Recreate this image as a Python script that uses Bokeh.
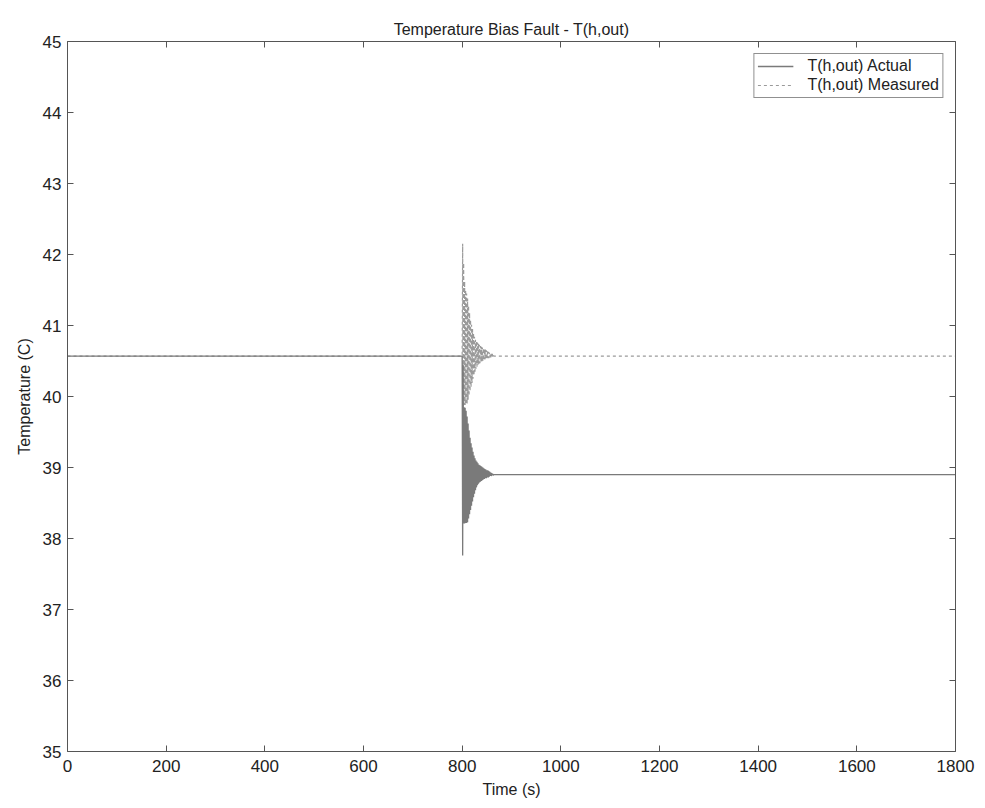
from bokeh.plotting import figure
from bokeh.models import LinearAxis, Range1d, FixedTicker, Legend, LegendItem
from bokeh.embed import file_html
from bokeh.resources import INLINE

title_text = "Temperature Bias Fault - T(h,out)"
x_label = "Time (s)"
y_label = "Temperature (C)"
x_ticks = [0, 200, 400, 600, 800, 1000, 1200, 1400, 1600, 1800]
y_ticks = [35, 36, 37, 38, 39, 40, 41, 42, 43, 44, 45]

# time samples (s)
time_s = [0, 800, 801, 802, 803, 804, 805, 806, 807, 808, 809, 810,
          811, 812, 813, 814, 815, 816, 817, 818, 819, 820,
          821, 822, 823, 824, 825, 826, 827, 828, 829, 830,
          831, 832, 833, 834, 835, 836, 837, 838, 839, 840,
          841, 842, 843, 844, 845, 846, 847, 848, 849, 850,
          851, 852, 853, 854, 855, 856, 857, 858, 859, 860,
          861, 862, 863, 864, 1800]

# T(h,out) actual (C)
t_actual = [40.57, 40.57, 37.76, 40.45, 38.21, 39.85, 38.21, 39.84, 38.22, 39.80, 38.22, 39.72,
            38.23, 39.62, 38.28, 39.52, 38.34, 39.42, 38.40, 39.34, 38.46, 39.28,
            38.52, 39.22, 38.58, 39.17, 38.63, 39.13, 38.68, 39.10, 38.72, 39.08,
            38.75, 39.06, 38.77, 39.04, 38.79, 39.03, 38.80, 39.02, 38.81, 39.01,
            38.82, 39.00, 38.83, 38.99, 38.84, 38.98, 38.85, 38.97, 38.85, 38.96,
            38.86, 38.96, 38.86, 38.95, 38.87, 38.94, 38.88, 38.93, 38.88, 38.92,
            38.89, 38.91, 38.89, 38.90, 38.90]

# T(h,out) measured (C)
t_measured = [40.57, 40.57, 42.15, 39.43, 41.88, 39.88, 41.62, 39.88, 41.50, 39.89, 41.45, 39.90,
              41.38, 39.95, 41.28, 40.01, 41.18, 40.07, 41.08, 40.13, 41.01, 40.19,
              40.95, 40.25, 40.89, 40.30, 40.84, 40.35, 40.80, 40.39, 40.78, 40.42,
              40.76, 40.44, 40.75, 40.46, 40.73, 40.47, 40.71, 40.48, 40.70, 40.49,
              40.69, 40.50, 40.68, 40.51, 40.67, 40.52, 40.66, 40.52, 40.65, 40.53,
              40.64, 40.54, 40.63, 40.54, 40.62, 40.55, 40.61, 40.55, 40.60, 40.56,
              40.60, 40.56, 40.59, 40.57, 40.57]

FONT = "Liberation Sans"
TXT = "#222222"
AX = "#555555"

p = figure(frame_width=888, frame_height=710,
           x_range=Range1d(0, 1800), y_range=Range1d(35, 45),
           output_backend="svg", toolbar_location=None,
           min_border_left=67, min_border_right=30,
           min_border_top=41, min_border_bottom=57,
           title=title_text)
p.background_fill_color = "white"
p.border_fill_color = "white"
p.outline_line_color = None
p.grid.visible = False

p.title.align = "center"
p.title.text_font = FONT
p.title.text_font_size = "16px"
p.title.text_font_style = "normal"
p.title.text_color = TXT
p.title.standoff = 8

def style_axis(ax, show_labels=True):
    ax.axis_line_color = AX
    ax.axis_line_width = 1
    ax.major_tick_line_color = AX
    ax.major_tick_in = 6
    ax.major_tick_out = 0
    ax.minor_tick_line_color = None
    ax.major_label_text_font = FONT
    ax.major_label_text_color = TXT
    ax.axis_label_text_font = FONT
    ax.axis_label_text_color = TXT
    ax.axis_label_text_font_style = "normal"
    if show_labels:
        ax.major_label_text_font_size = "17px"
        ax.axis_label_text_font_size = "16px"
    else:
        ax.major_label_text_font_size = "2px"
        ax.major_label_text_color = None
        ax.major_label_standoff = 0

p.xaxis.ticker = FixedTicker(ticks=x_ticks)
p.yaxis.ticker = FixedTicker(ticks=y_ticks)
p.xaxis.axis_label = x_label
p.yaxis.axis_label = y_label
style_axis(p.xaxis[0])
style_axis(p.yaxis[0])
p.xaxis.major_label_standoff = 8
p.xaxis.axis_label_standoff = 6
p.yaxis.major_label_standoff = 6
p.yaxis.axis_label_standoff = 7

top_ax = LinearAxis(ticker=FixedTicker(ticks=x_ticks))
style_axis(top_ax, False)
p.add_layout(top_ax, "above")
right_ax = LinearAxis(ticker=FixedTicker(ticks=y_ticks))
style_axis(right_ax, False)
p.add_layout(right_ax, "right")

r_meas = p.line(time_s, t_measured, line_color="#9a9a9a", line_width=1.2, line_dash="3 3")
r_act = p.line(time_s, t_actual, line_color="#7a7a7a", line_width=1.3)

legend = Legend(items=[LegendItem(label="T(h,out) Actual", renderers=[r_act]),
                       LegendItem(label="T(h,out) Measured", renderers=[r_meas])],
                location="top_right")
legend.label_text_font = FONT
legend.label_text_font_size = "16px"
legend.label_text_color = TXT
legend.label_height = 16
legend.glyph_height = 16
legend.glyph_width = 36
legend.label_standoff = 14
legend.spacing = 1
legend.padding = 3
legend.margin = 12
legend.border_line_color = "#222222"
legend.border_line_width = 1
legend.background_fill_color = "white"
legend.background_fill_alpha = 1
p.add_layout(legend, "center")

open("out.html", "w").write(file_html(p, INLINE))
